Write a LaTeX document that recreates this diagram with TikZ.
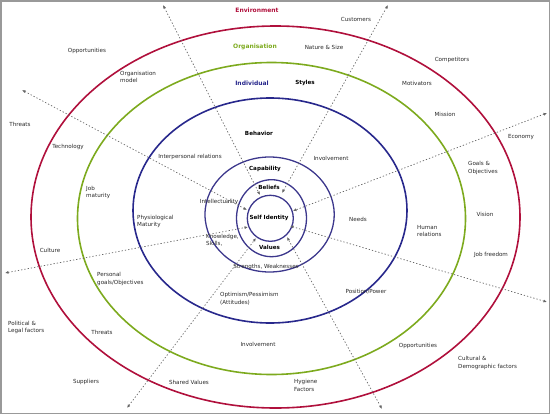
\documentclass[tikz,border=0pt]{standalone}
\usepackage{fontspec}
\setmainfont{DejaVu Sans}
\usetikzlibrary{arrows.meta}
\definecolor{envred}{RGB}{176,16,60}
\definecolor{orggreen}{RGB}{125,170,30}
\definecolor{indblue}{RGB}{40,40,140}
\definecolor{coreblue}{RGB}{60,55,140}
\definecolor{txt}{RGB}{40,40,40}
\begin{document}
\begin{tikzpicture}[x=1pt,y=-1pt,
  lbl/.style={font=\fontsize{5.6}{7.8}\selectfont, inner sep=0pt, text=txt},
  llbl/.style={lbl, anchor=west, align=left},
  blbl/.style={font=\fontsize{5.6}{7.8}\selectfont\bfseries, inner sep=0pt, text=black},
  head/.style={font=\fontsize{6}{8}\selectfont\bfseries, inner sep=0pt},
  conn/.style={draw=black!60, line width=0.7pt, dash pattern=on 1.3pt off 2pt,
     arrows={Latex[length=3.5pt,width=3pt]-Latex[length=3.5pt,width=3pt]}},
  ring/.style={line width=1.6pt}]
\useasboundingbox (0,0) rectangle (551,415);
\draw[black!40, line width=1.5pt] (1,1) rectangle (549.5,413.5);

% rings
\draw[ring, envred] (275.5,217) ellipse [x radius=244.5pt, y radius=191pt];
\draw[ring, orggreen] (271.5,218.5) ellipse [x radius=194pt, y radius=156pt];
\draw[ring, indblue] (270,210.5) ellipse [x radius=137pt, y radius=112.5pt];
\draw[line width=1.3pt, coreblue] (269.6,214.5) ellipse [x radius=64.6pt, y radius=57.5pt];
\draw[line width=1.3pt, coreblue] (271.5,218.2) ellipse [x radius=35pt, y radius=38.5pt];
\draw[line width=1.3pt, coreblue] (270.3,218.3) circle [radius=23pt];

% connector end points
\coordinate (o1) at (163,5);   \coordinate (i1) at (260,195);
\coordinate (o2) at (388,5);   \coordinate (i2) at (282,193);
\coordinate (o3) at (22,90);   \coordinate (i3) at (247,210);
\coordinate (o4) at (547,113); \coordinate (i4) at (293,211);
\coordinate (o5) at (5,273);   \coordinate (i5) at (248,227);
\coordinate (o6) at (547,302); \coordinate (i6) at (290,226);
\coordinate (o7) at (127,408); \coordinate (i7) at (256,238);
\coordinate (o8) at (382,409); \coordinate (i8) at (287,237);
\foreach \k in {1,...,8} { \path[conn] (o\k) -- (i\k); }

% headings
\node[head, text=envred] (env) at (257,10) {Environment};
\node[head, text=orggreen] (org) at (255,47) {Organisation};
\node[head, text=indblue] (ind) at (252,83) {Individual};

% bold labels
\node[blbl] (sty) at (305,83) {Styles};
\node[blbl] (beh) at (259,133) {Behavior};
\node[blbl] (cap) at (265,169) {Capability};
\node[blbl] (bel) at (269,187) {Beliefs};
\node[blbl] (sid) at (269,218) {Self Identity};
\node[blbl] (val) at (269.5,247) {Values};

% centered labels
\node[lbl] (l1) at (87,51) {Opportunities};
\node[lbl] (l2) at (20,124) {Threats};
\node[lbl] (l3) at (356,19) {Customers};
\node[lbl] (l4) at (324,47) {Nature \& Size};
\node[lbl] (l5) at (452,60) {Competitors};
\node[lbl] (l6) at (417,83) {Motivators};
\node[lbl] (l7) at (445,114) {Mission};
\node[lbl] (l8) at (521,137) {Economy};
\node[lbl] (l9) at (68,147) {Technology};
\node[lbl] (l10) at (190,157) {Interpersonal relations};
\node[lbl] (l11) at (331,158) {Involvement};
\node[lbl] (l12) at (219,202) {Intellectuality};
\node[lbl] (l13) at (358,219) {Needs};
\node[lbl] (l14) at (485,214) {Vision};
\node[lbl] (l15) at (50,250) {Culture};
\node[lbl] (l16) at (491,255) {Job freedom};
\node[lbl] (l17) at (266,267) {Strengths, Weaknesses};
\node[lbl] (l18) at (366,292) {Position/Power};
\node[lbl] (l19) at (102,332) {Threats};
\node[lbl] (l20) at (258,344) {Involvement};
\node[lbl] (l21) at (418,346) {Opportunities};
\node[lbl] (l22) at (86,382) {Suppliers};
\node[lbl] (l23) at (189,382) {Shared Values};

% left-aligned two-line labels
\node[llbl] (m1) at (120,77) {Organisation\\model};
\node[llbl] (m2) at (86,192.5) {Job\\maturity};
\node[llbl] (m3) at (137,221.5) {Physiological\\Maturity};
\node[llbl, font=\fontsize{5.6}{7}\selectfont] (m4) at (206,240.5) {Knowledge,\\Skills,};
\node[llbl] (m5) at (97,279) {Personal\\goals/Objectives};
\node[llbl] (m6) at (468,168) {Goals \&\\Objectives};
\node[llbl] (m7) at (417,231) {Human\\relations};
\node[llbl] (m8) at (8,327.5) {Political \&\\Legal factors};
\node[llbl] (m9) at (220,299) {Optimism/Pessimism\\(Attitudes)};
\node[llbl] (m10) at (458,363) {Cultural \&\\Demographic factors};
\node[llbl] (m11) at (294,385.5) {Hygiene\\Factors};
\end{tikzpicture}
\end{document}
